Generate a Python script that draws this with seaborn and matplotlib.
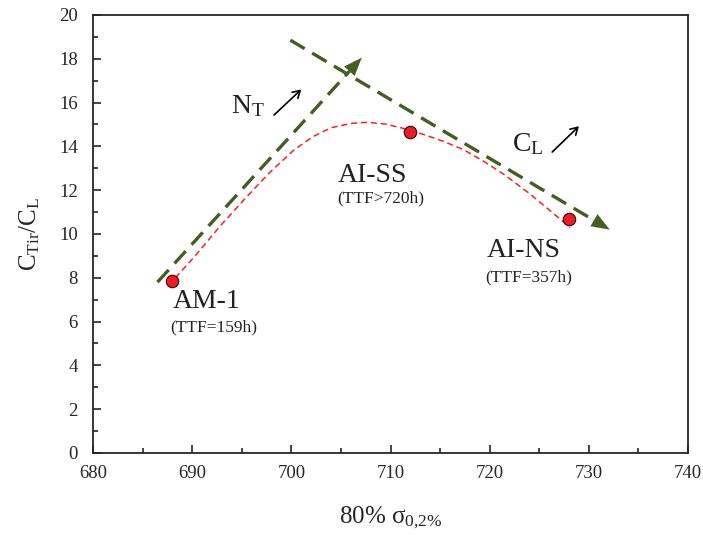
import numpy as np
import pandas as pd
import matplotlib
matplotlib.use("Agg")
import matplotlib.pyplot as plt
import seaborn as sns
from matplotlib.ticker import MultipleLocator

# measured alloys
alloys = ["AM-1", "AI-SS", "AI-NS"]
ttf_labels = ["(TTF=159h)", "(TTF>720h)", "(TTF=357h)"]
sigma80 = [688.0, 712.0, 728.0]
ctir_cl = [7.85, 14.66, 10.68]

# red dashed trend curve
curve_x = [688.3, 689.3, 690.3, 692.8, 695.3, 697.8, 700.3, 702.2, 704.0, 706.0,
           707.7, 709.5, 711.3, 713.3, 715.4, 717.4, 719.3, 721.5, 724.0, 726.0, 728.1]
curve_y = [8.0, 8.5, 9.0, 10.35, 11.6, 12.8, 13.85, 14.45, 14.85, 15.05,
           15.1, 15.02, 14.82, 14.55, 14.22, 13.84, 13.35, 12.7, 11.85, 11.1, 10.3]

# green dashed trend arrows: (x0, y0, x1, y1)
nt_trend = [686.5, 7.8, 707.1, 18.05]
cl_trend = [699.9, 18.85, 732.1, 10.2]

# small black arrows: (x0, y0, x1, y1)
nt_arrow = [698.25, 15.43, 701.0, 16.6]
cl_arrow = [726.3, 13.74, 729.0, 14.92]

sns.set_style("ticks")
plt.rcParams["font.family"] = ["Liberation Serif", "DejaVu Serif"]
plt.rcParams["mathtext.fontset"] = "custom"
plt.rcParams["mathtext.rm"] = "Liberation Serif"
plt.rcParams["mathtext.it"] = "Liberation Serif:italic"

fig = plt.figure(figsize=(7.03, 5.35), dpi=100)
ax = fig.add_axes([0.1323, 0.1533, 0.8464, 0.8187])

green = "#435d22"
red = "#ff1f1f"

# trend arrows (dashed shaft + solid head)
for x0, y0, x1, y1 in [nt_trend, cl_trend]:
    ax.plot([x0, x1 - 0.06 * (x1 - x0)], [y0, y1 - 0.06 * (y1 - y0)],
            color=green, lw=2.4, dashes=(5, 2.6), solid_capstyle="butt")
    ax.annotate("", xy=(x1, y1), xytext=(x1 - 0.1 * (x1 - x0), y1 - 0.1 * (y1 - y0)),
                arrowprops=dict(arrowstyle="-|>,head_length=1.3,head_width=0.5",
                                color=green, lw=0.1, shrinkA=0, shrinkB=0))

curve = pd.DataFrame({"x": curve_x, "y": curve_y})
sns.lineplot(data=curve, x="x", y="y", ax=ax, color=red, lw=1.1,
             dashes=False, linestyle=(0, (4, 2.5)), sort=False)

pts = pd.DataFrame({"x": sigma80, "y": ctir_cl})
sns.scatterplot(data=pts, x="x", y="y", ax=ax, s=80, color="#ee1c25",
                edgecolor="#3a0000", linewidth=0.8, zorder=5)

for x0, y0, x1, y1 in [nt_arrow, cl_arrow]:
    ax.annotate("", xy=(x1, y1), xytext=(x0, y0),
                arrowprops=dict(arrowstyle="->,head_length=0.5,head_width=0.3",
                                color="black", lw=1.2, shrinkA=0, shrinkB=0))

# labels for alloys
name_pos = [(688.0, 6.62), (704.7, 12.37), (719.7, 8.95)]
ttf_pos = [(687.8, 5.53), (704.6, 11.42), (719.6, 7.85)]
for name, ttf, (nx, ny), (tx, ty) in zip(alloys, ttf_labels, name_pos, ttf_pos):
    ax.text(nx, ny, name, fontsize=20, va="baseline", ha="left", color="#222222")
    ax.text(tx, ty, ttf, fontsize=12.5, va="baseline", ha="left", color="#222222")

ax.text(693.95, 15.53, r"N$_{\rm T}$", fontsize=20, va="baseline", ha="left", color="#222222")
ax.text(722.25, 13.79, r"C$_{\rm L}$", fontsize=20, va="baseline", ha="left", color="#222222")

ax.set_xlim(680, 740)
ax.set_ylim(0, 20)
ax.xaxis.set_major_locator(MultipleLocator(10))
ax.xaxis.set_minor_locator(MultipleLocator(5))
ax.yaxis.set_major_locator(MultipleLocator(2))
ax.yaxis.set_minor_locator(MultipleLocator(1))
ax.tick_params(which="major", direction="in", length=6, width=1.2, labelsize=13.5)
ax.tick_params(axis="x", which="major", pad=9)
ax.tick_params(axis="y", which="major", pad=11)
ax.tick_params(which="minor", direction="in", length=3.5, width=1.2)
for sp in ax.spines.values():
    sp.set_linewidth(1.3)
    sp.set_visible(True)

ax.set_xlabel(r"80% σ$_{\rm 0{,}2\%}$", fontsize=18, labelpad=16)
ax.set_ylabel(r"C$_{\rm Tir}$/C$_{\rm L}$", fontsize=18, labelpad=12)

fig.savefig("out.png", dpi=100)
